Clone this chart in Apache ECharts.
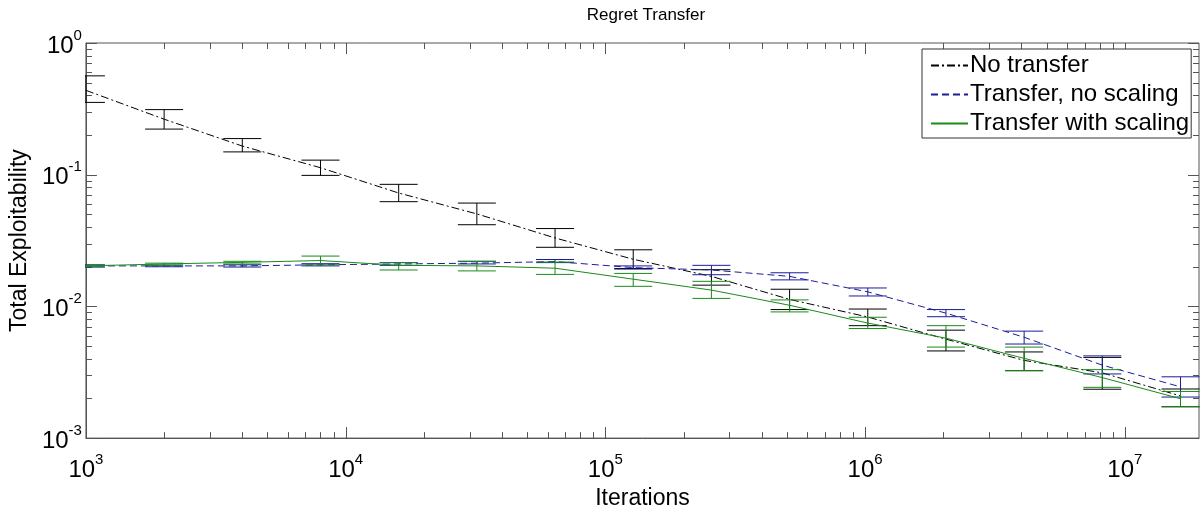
<!DOCTYPE html>
<html>
<head>
<meta charset="utf-8">
<script src="https://cdn.jsdelivr.net/npm/echarts@6/dist/echarts.min.js"></script>
<style>
html,body{margin:0;padding:0;background:#fff;}
#chart{width:1202px;height:515px;}
</style>
</head>
<body>
<div id="chart"></div>
<script>
// ---- data ----
const iterations = [1000, 2000, 4000, 8000, 16000, 32000, 64000, 128000, 256000, 512000, 1024000, 2048000, 4096000, 8192000, 16384000];

const noTransfer     = [0.437, 0.264, 0.165, 0.113, 0.0726, 0.0504, 0.0331, 0.0228, 0.0169, 0.0113, 0.00831, 0.00564, 0.00389, 0.00313, 0.00209];
const noTransferLow  = [0.354, 0.222, 0.149, 0.0988, 0.0624, 0.0417, 0.0281, 0.0194, 0.0145, 0.00946, 0.00714, 0.00459, 0.00325, 0.00235, 0.00173];
const noTransferHigh = [0.563, 0.312, 0.188, 0.129, 0.0845, 0.0609, 0.0390, 0.0269, 0.0190, 0.0135, 0.00955, 0.00660, 0.00451, 0.00410, 0.00236];

const noScaling      = [0.0203, 0.0203, 0.0203, 0.0207, 0.0210, 0.0213, 0.0219, 0.0197, 0.0189, 0.0169, 0.0129, 0.00889, 0.00583, 0.00358, 0.00245];
const noScalingLow   = [0.0199, 0.0200, 0.0199, 0.0203, 0.0205, 0.0210, 0.0215, 0.0192, 0.0174, 0.0159, 0.0120, 0.00835, 0.00518, 0.00307, 0.00205];
const noScalingHigh  = [0.0207, 0.0206, 0.0207, 0.0211, 0.0215, 0.0220, 0.0227, 0.0203, 0.0205, 0.0180, 0.0138, 0.00946, 0.00649, 0.00421, 0.00292];

const withScaling     = [0.0203, 0.0210, 0.0216, 0.0223, 0.0205, 0.0203, 0.0195, 0.0161, 0.0133, 0.0102, 0.00747, 0.00574, 0.00403, 0.00288, 0.00199];
const withScalingLow  = [0.0200, 0.0205, 0.0210, 0.0207, 0.0189, 0.0186, 0.0175, 0.0142, 0.0115, 0.00908, 0.00679, 0.00491, 0.00325, 0.00243, 0.00173];
const withScalingHigh = [0.0206, 0.0213, 0.0220, 0.0241, 0.0215, 0.0220, 0.0217, 0.0178, 0.0155, 0.0112, 0.00827, 0.00714, 0.00491, 0.00331, 0.00226];

const seriesNames = ['No transfer', 'Transfer, no scaling', 'Transfer with scaling'];
const titleText = 'Regret Transfer';
const xName = 'Iterations';
const yName = 'Total Exploitability';
const xMin = 1000, xMax = 1.93e7;
const yMin = 0.001, yMax = 1;

// ---- helpers ----
const FONT = '"Liberation Sans", Arial, sans-serif';
const AXIS_COLOR = '#555';
const C_BLACK = '#000000', C_BLUE = '#1c1c9c', C_GREEN = '#1a8a1a';

function pairs(xs, ys) { return xs.map((x, i) => [x, ys[i]]); }
function bars(xs, lo, hi) { return xs.map((x, i) => [x, lo[i], hi[i]]); }

// minor/major tick positions (axis decoration, drawn through the axis scale)
const xTicks = [];
for (let e = 3; e <= 7; e++) for (let m = 1; m <= 9; m++) {
  const v = m * Math.pow(10, e);
  if (v <= xMax) xTicks.push([v, yMin, m === 1 ? 1 : 0]);
}
const yTicks = [];
for (let e = -3; e <= 0; e++) for (let m = 1; m <= 9; m++) {
  const v = m * Math.pow(10, e);
  if (v <= yMax + 1e-12) yTicks.push([xMin, v, m === 1 ? 1 : 0]);
}

function powLabel(value) {
  const e = Math.log10(value);
  const r = Math.round(e);
  if (Math.abs(e - r) > 1e-6) return '';
  return '{b|10}{s|' + r + '}';
}
const labelRich = {
  b: { fontSize: 24, fontFamily: FONT, color: '#000', lineHeight: 30, verticalAlign: 'bottom' },
  s: { fontSize: 15, fontFamily: FONT, color: '#000', lineHeight: 16, verticalAlign: 'top' }
};

function errRender(color) {
  return function (params, api) {
    const x = api.value(0);
    const top = api.coord([x, api.value(2)]);
    const bot = api.coord([x, api.value(1)]);
    const h = 19;
    const st = { stroke: color, lineWidth: 1, fill: null };
    return {
      type: 'group',
      children: [
        { type: 'line', shape: { x1: top[0], y1: top[1], x2: bot[0], y2: bot[1] }, style: st },
        { type: 'line', shape: { x1: top[0] - h, y1: top[1], x2: top[0] + h, y2: top[1] }, style: st },
        { type: 'line', shape: { x1: bot[0] - h, y1: bot[1], x2: bot[0] + h, y2: bot[1] }, style: st }
      ]
    };
  };
}

function xTickRender(params, api) {
  const p = api.coord([api.value(0), yMin]);
  const cs = params.coordSys;
  const len = api.value(2) ? 11 : 6;
  const st = { stroke: AXIS_COLOR, lineWidth: 1 };
  const x = Math.round(p[0]) + 0.5;
  return {
    type: 'group', children: [
      { type: 'line', shape: { x1: x, y1: cs.y + cs.height, x2: x, y2: cs.y + cs.height - len }, style: st },
      { type: 'line', shape: { x1: x, y1: cs.y, x2: x, y2: cs.y + len }, style: st }
    ]
  };
}
function yTickRender(params, api) {
  const p = api.coord([xMin, api.value(1)]);
  const cs = params.coordSys;
  const len = api.value(2) ? 11 : 6;
  const st = { stroke: AXIS_COLOR, lineWidth: 1 };
  const y = Math.round(p[1]) + 0.5;
  return {
    type: 'group', children: [
      { type: 'line', shape: { x1: cs.x, y1: y, x2: cs.x + len, y2: y }, style: st },
      { type: 'line', shape: { x1: cs.x + cs.width, y1: y, x2: cs.x + cs.width - len, y2: y }, style: st }
    ]
  };
}

const chart = echarts.init(document.getElementById('chart'), null, { renderer: 'canvas' });
chart.setOption({
  animation: false,
  backgroundColor: '#fff',
  textStyle: { fontFamily: FONT },
  title: {
    text: titleText, left: 641, textAlign: 'center', top: 2,
    textStyle: { fontSize: 17, fontWeight: 'normal', color: '#000', fontFamily: FONT }
  },
  grid: { left: 81, right: 1, top: 43, bottom: 62, show: true, borderColor: AXIS_COLOR, borderWidth: 1, backgroundColor: 'transparent' },
  legend: {
    data: seriesNames,
    orient: 'vertical', left: 922, top: 49,
    itemWidth: 37, itemHeight: 1, itemGap: 0,
    padding: [2, 2, 0, 8],
    itemStyle: { opacity: 0, borderWidth: 0 },
    backgroundColor: '#fff', borderColor: '#333', borderWidth: 1, borderRadius: 0,
    textStyle: { fontSize: 24, color: '#000', fontFamily: FONT, lineHeight: 29, padding: [0, 0, 0, -3] },
    selectedMode: false
  },
  xAxis: {
    type: 'log', logBase: 10, min: xMin, max: xMax,
    name: xName, nameLocation: 'middle', nameGap: 44,
    nameTextStyle: { fontSize: 23, color: '#000', fontFamily: FONT },
    axisLine: { show: true, lineStyle: { color: AXIS_COLOR, width: 1 } },
    axisTick: { show: false },
    splitLine: { show: false },
    minorTick: { show: false },
    axisLabel: { interval: 0, margin: 14, formatter: powLabel, rich: labelRich, hideOverlap: false }
  },
  yAxis: {
    type: 'log', logBase: 10, min: yMin, max: yMax,
    name: yName, nameLocation: 'middle', nameGap: 53, nameRotate: 90,
    nameTextStyle: { fontSize: 23, color: '#000', fontFamily: FONT },
    axisLine: { show: true, lineStyle: { color: AXIS_COLOR, width: 1 } },
    axisTick: { show: false },
    splitLine: { show: false },
    axisLabel: { interval: 0, margin: 4, formatter: powLabel, rich: labelRich }
  },
  series: [
    { type: 'custom', name: 'xticks', renderItem: xTickRender, data: xTicks, encode: { x: 0, y: 1 }, silent: true, z: 1 },
    { type: 'custom', name: 'yticks', renderItem: yTickRender, data: yTicks, encode: { x: 0, y: 1 }, silent: true, z: 1 },

    { type: 'line', name: seriesNames[0], data: pairs(iterations, noTransfer), symbol: 'none', color: C_BLACK,
      lineStyle: { color: C_BLACK, width: 1, type: [8, 3, 2, 3] }, z: 2 },
    { type: 'custom', name: 'err0', renderItem: errRender(C_BLACK), data: bars(iterations, noTransferLow, noTransferHigh),
      encode: { x: 0, y: [1, 2] }, clip: true, silent: true, z: 2 },

    { type: 'line', name: seriesNames[1], data: pairs(iterations, noScaling), symbol: 'none', color: C_BLUE,
      lineStyle: { color: C_BLUE, width: 1, type: [7, 4] }, z: 3 },
    { type: 'custom', name: 'err1', renderItem: errRender(C_BLUE), data: bars(iterations, noScalingLow, noScalingHigh),
      encode: { x: 0, y: [1, 2] }, clip: true, silent: true, z: 3 },

    { type: 'line', name: seriesNames[2], data: pairs(iterations, withScaling), symbol: 'none', color: C_GREEN,
      lineStyle: { color: C_GREEN, width: 1, type: 'solid' }, z: 4 },
    { type: 'custom', name: 'err2', renderItem: errRender(C_GREEN), data: bars(iterations, withScalingLow, withScalingHigh),
      encode: { x: 0, y: [1, 2] }, clip: true, silent: true, z: 4 }
  ]
});
</script>
</body>
</html>
